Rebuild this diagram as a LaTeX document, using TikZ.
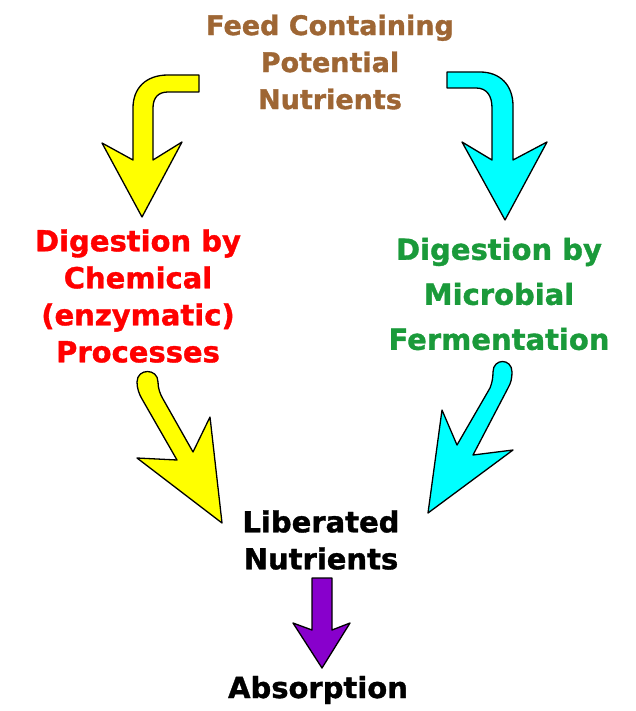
\documentclass[tikz,border=0pt]{standalone}
\usepackage{fontspec}
\setmainfont{DejaVu Sans}[BoldFeatures={FakeBold=1.2}]
\definecolor{feedbrown}{RGB}{158,102,52}
\definecolor{chemred}{RGB}{255,0,0}
\definecolor{micgreen}{RGB}{26,154,58}
\definecolor{arrowyellow}{RGB}{255,255,0}
\definecolor{arrowcyan}{RGB}{0,255,255}
\definecolor{arrowpurple}{RGB}{136,0,204}
\begin{document}
\begin{tikzpicture}[x=1pt,y=-1pt,
  lbl/.style={align=center,inner sep=0pt,font=\bfseries\fontsize{29}{37}\selectfont},
  fatarrow/.style={draw=black,line width=1.3pt,line join=round}]
\useasboundingbox (0,0) rectangle (636,711);
% text nodes
\node[lbl,text=feedbrown,font=\bfseries\fontsize{27}{37}\selectfont] (feed) at (330,62) {Feed Containing\\Potential\\Nutrients};
\node[lbl,text=chemred] (chem) at (138,296) {Digestion by\\Chemical\\(enzymatic)\\Processes};
\node[lbl,text=micgreen,font=\bfseries\fontsize{29}{45}\selectfont] (micro) at (499,294) {Digestion by\\Microbial\\Fermentation};
\node[lbl,text=black] (lib) at (321,540) {Liberated\\Nutrients};
\node[lbl,text=black] (abs) at (318,690) {Absorption};
% yellow top-left arrow
\draw[fatarrow,fill=arrowyellow] (199,75) -- (168,75) .. controls (146,75) and (133,88) .. (133,108)
  -- (133,160) -- (102,143) -- (142,217) -- (182,142) -- (153,160) -- (153,108)
  .. controls (153,98) and (158,92) .. (168,92) -- (199,92) -- cycle;
% cyan top-right arrow
\draw[fatarrow,fill=arrowcyan] (447,72) -- (480,72) .. controls (500,72) and (513,85) .. (513,106)
  -- (513,160) -- (547,142) -- (505,220) -- (462,142) -- (492,160) -- (492,108)
  .. controls (492,96) and (487,88) .. (476,88) -- (447,88) -- cycle;
% yellow bottom-left arrow
\draw[fatarrow,fill=arrowyellow] (137,382) .. controls (137,368) and (158,368) .. (158,382)
  .. controls (158,388) and (160,394) .. (163,399) -- (193,452) -- (210,417) -- (222,523)
  -- (137,458) -- (177,460) -- (142,399) .. controls (139,394) and (137,388) .. (137,382) -- cycle;
% cyan bottom-right arrow
\draw[fatarrow,fill=arrowcyan] (493,372) .. controls (493,358) and (512,358) .. (512,372)
  .. controls (512,378) and (511,383) .. (508,388) -- (473,455) -- (513,450) -- (428,513)
  -- (442,410) -- (457,445) -- (490,388) .. controls (492,383) and (493,378) .. (493,372) -- cycle;
% purple arrow
\draw[fatarrow,fill=arrowpurple] (312,578) -- (332,578) -- (332,630) -- (350,623) -- (322,668)
  -- (293,623) -- (312,630) -- cycle;
\end{tikzpicture}
\end{document}
